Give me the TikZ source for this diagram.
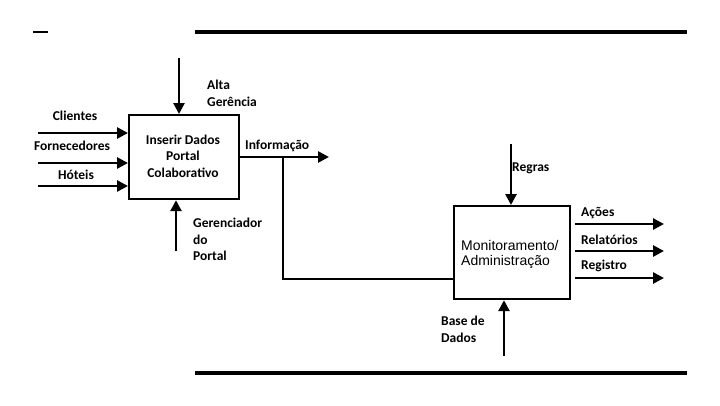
\documentclass[tikz,border=0pt]{standalone}
\usepackage{fontspec}
\setmainfont{Carlito}
\newfontfamily\arialf{Liberation Sans}
\usetikzlibrary{arrows.meta}
\begin{document}
\begin{tikzpicture}[x=1pt,y=-1pt,
  box/.style={draw,line width=2.2pt,inner sep=0pt,anchor=north west},
  conn/.style={line width=2.6pt},
  arr/.style={line width=2.6pt,-{Triangle[length=11pt,width=11pt]}},
  rule/.style={line width=3.2pt},
  lbl/.style={font=\fontsize{13.5}{16.5}\selectfont\bfseries,inner sep=0pt},
  lblL/.style={lbl,anchor=west,align=left}]
\useasboundingbox (0,0) rectangle (720,405);
% rules
\coordinate (t1a) at (33,32); \coordinate (t1b) at (48,32);
\coordinate (t2a) at (195,32); \coordinate (t2b) at (687,32);
\coordinate (b1a) at (195,373); \coordinate (b1b) at (687,373);
\draw[line width=2.6pt] (t1a) -- (t1b);
\draw[rule] (t2a) -- (t2b);
\draw[rule] (b1a) -- (b1b);
% box 1
\node[box,minimum width=110pt,minimum height=84pt] (B1) at (128,114) {};
\node[lbl,align=center] (B1t) at (183,156) {Inserir Dados\\Portal\\Colaborativo};
% box 2
\node[box,minimum width=116pt,minimum height=93pt] (B2) at (453,205) {};
\node[inner sep=0pt,anchor=west,align=left,font=\arialf\fontsize{14}{15}\selectfont] (B2t) at (461,254.5) {Monitoramento/\\Administração};
% inputs box1
\coordinate (i1) at (38,133); \coordinate (i2) at (38,163); \coordinate (i3) at (38,186);
\draw[arr] (i1) -- (i1 -| B1.west);
\draw[arr] (i2) -- (i2 -| B1.west);
\draw[arr] (i3) -- (i3 -| B1.west);
\node[lbl] (lc) at (75,116) {Clientes};
\node[lbl] (lf) at (72,146) {Fornecedores};
\node[lbl] (lh) at (76,175) {Hóteis};
% control top
\coordinate (c1) at (179,58);
\draw[arr] (c1) -- (c1 |- B1.north);
\node[lblL] (la) at (207,93.5) {Alta\\Gerência};
% mechanism bottom
\coordinate (m1) at (176,251);
\draw[arr] (m1) -- (m1 |- B1.south);
\node[lblL] (lg) at (193,239.5) {Gerenciador\\do\\Portal};
% output informação
\coordinate (o1) at (329,157);
\draw[arr] (o1 -| B1.east) -- (o1);
\node[lbl,anchor=west] (li) at (245,146) {Informação};
\coordinate (j1) at (283,157);
\coordinate (j2) at (283,279);
\draw[conn] (j1) -- (j2) -- (j2 -| B2.west);
% box2 control
\coordinate (c2) at (511,144);
\draw[arr] (c2) -- (c2 |- B2.north);
\node[lbl,anchor=west] (lr) at (512,168) {Regras};
% box2 mechanism
\coordinate (m2) at (504,356);
\draw[arr] (m2) -- (m2 |- B2.south);
\node[lblL] (lb) at (441,329.5) {Base de\\Dados};
% outputs box2
\coordinate (p1) at (664,224); \coordinate (p2) at (664,251); \coordinate (p3) at (664,278);
\draw[arr] (p1 -| B2.east) ++(4,0) -- (p1);
\draw[arr] (p2 -| B2.east) ++(4,0) -- (p2);
\draw[arr] (p3 -| B2.east) ++(4,0) -- (p3);
\node[lbl,anchor=west] (l1) at (581,213) {Ações};
\node[lbl,anchor=west] (l2) at (581,240) {Relatórios};
\node[lbl,anchor=west] (l3) at (581,266) {Registro};
\end{tikzpicture}
\end{document}
